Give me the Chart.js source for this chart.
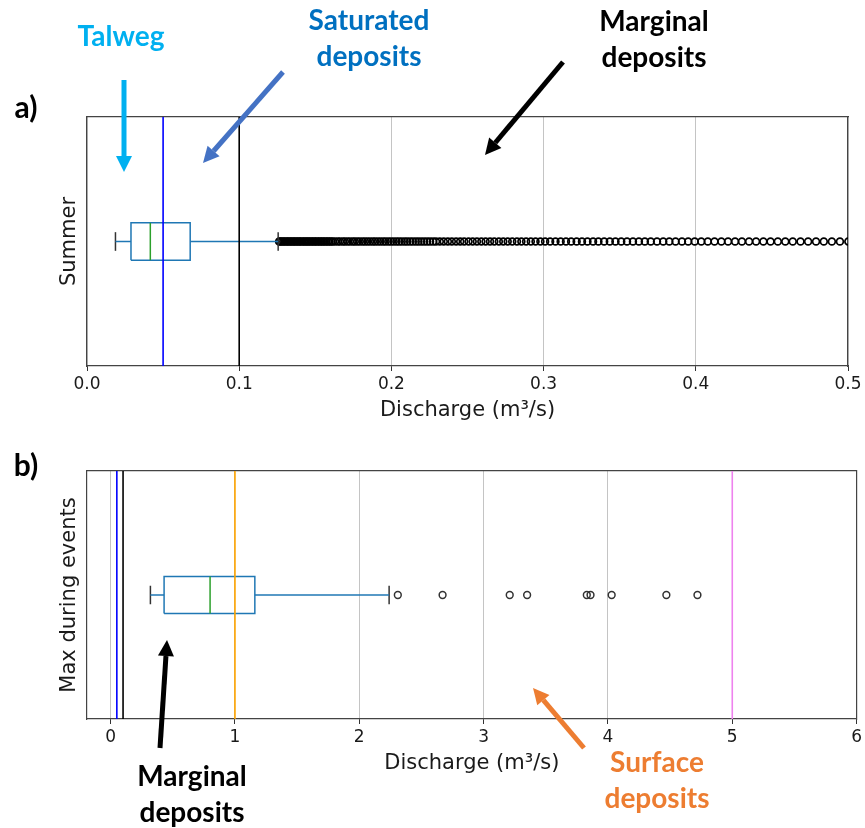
<!DOCTYPE html>
<html>
<head>
<meta charset="utf-8">
<script src="https://cdn.jsdelivr.net/npm/chart.js@4.4.1/dist/chart.umd.min.js"></script>
<style>
html,body{margin:0;padding:0;background:#fff;}
#page{position:relative;width:865px;height:828px;overflow:hidden;background:#fff;}
.wrap{position:absolute;left:0;width:865px;height:330px;}
.note{position:absolute;font-family:Lato,"Open Sans",sans-serif;font-weight:700;font-size:28px;line-height:36px;text-align:center;white-space:nowrap;transform:translate(-50%,-50%);}
.tag{font-size:30px;color:#000;}
#arrows{position:absolute;left:0;top:0;}
</style>
</head>
<body>
<div id="page">
  <div class="wrap" style="top:100px"><canvas id="summer"></canvas></div>
  <div class="wrap" style="top:455px"><canvas id="events"></canvas></div>
  <svg id="arrows" width="865" height="828"></svg>
  <div class="note tag" style="left:26px;top:106px">a)</div>
  <div class="note tag" style="left:26px;top:464px">b)</div>
  <div class="note" style="left:121px;top:35px;color:#00b0f0">Talweg</div>
  <div class="note" style="left:369px;top:37px;color:#0070c0">Saturated<br>deposits</div>
  <div class="note" style="left:654px;top:38px;color:#000">Marginal<br>deposits</div>
  <div class="note" style="left:192px;top:793px;color:#000">Marginal<br>deposits</div>
  <div class="note" style="left:657px;top:779px;color:#ed7d31">Surface<br>deposits</div>
</div>
<script>
// box stats: [low whisker, Q1, median, Q3, high whisker]
const summerBox = [0.0187, 0.0289, 0.0416, 0.0678, 0.1256];
const summerFliers = [
  0.1262, 0.1271, 0.1279, 0.1290, 0.1298, 0.1309, 0.1318, 0.1327, 0.1337, 0.1346,
  0.1356, 0.1365, 0.1374, 0.1385, 0.1394, 0.1403, 0.1413, 0.1424, 0.1432, 0.1443,
  0.1452, 0.1461, 0.1472, 0.1481, 0.1492, 0.1501, 0.1511, 0.1522, 0.1531, 0.1542,
  0.1551, 0.1562, 0.1572, 0.1583, 0.1593, 0.1604,
  0.1615, 0.1630, 0.1648, 0.1662, 0.1680, 0.1694, 0.1711, 0.1727, 0.1745, 0.1759,
  0.1776, 0.1792, 0.1810, 0.1826, 0.1843, 0.1860, 0.1878, 0.1893, 0.1911, 0.1928,
  0.1946, 0.1962, 0.1980, 0.1997, 0.2015, 0.2033, 0.2050, 0.2068, 0.2087, 0.2104,
  0.2123, 0.2141, 0.2160, 0.2178, 0.2197, 0.2216, 0.2235, 0.2254, 0.2274, 0.2293,
  0.2318, 0.2344, 0.2371, 0.2397, 0.2425, 0.2452, 0.2478, 0.2507, 0.2534, 0.2562,
  0.2591, 0.2619, 0.2648, 0.2676, 0.2706, 0.2735, 0.2764, 0.2794, 0.2825, 0.2854,
  0.2885, 0.2916, 0.2947, 0.2979,
  0.3010, 0.3043, 0.3078, 0.3112, 0.3147, 0.3181, 0.3217, 0.3252, 0.3288, 0.3325,
  0.3360, 0.3398, 0.3435, 0.3472, 0.3510, 0.3548, 0.3587, 0.3626, 0.3665, 0.3704,
  0.3745, 0.3786, 0.3826, 0.3867, 0.3909, 0.3950, 0.3993,
  0.4036, 0.4079, 0.4123, 0.4168, 0.4212, 0.4258, 0.4303, 0.4350, 0.4396, 0.4444,
  0.4491, 0.4539, 0.4588, 0.4637, 0.4688, 0.4738, 0.4790, 0.4841, 0.4894, 0.4947,
  0.5002
];
const summerLines = [0.05, 0.1];
const summerLineColors = ['#0000ff', '#000000'];
const summerTicks = [0, 0.1, 0.2, 0.3, 0.4, 0.5];

const eventsBox = [0.32, 0.43, 0.80, 1.16, 2.24];
const eventsFliers = [2.31, 2.67, 3.21, 3.35, 3.83, 3.86, 4.03, 4.47, 4.72];
const eventsLines = [0.05, 0.1, 1, 5];
const eventsLineColors = ['#0000ff', '#000000', '#ffa500', '#ee82ee'];
const eventsTicks = [0, 1, 2, 3, 4, 5, 6];

const BOX_HALF = 0.15, CAP_HALF = 0.075;
const INK = '#1a1a1a', FRAME = '#444';

function seg(points, color, width) {
  return {data: points, showLine: true, borderColor: color, borderWidth: width || 1.5,
          pointRadius: 0, fill: false, tension: 0};
}

function datasets(box, fliers, lines, lineColors, flierStyle) {
  const [lo, q1, med, q3, hi] = box;
  const y = 1, b = BOX_HALF, c = CAP_HALF;
  const out = lines.map((v, i) => seg([{x: v, y: 0}, {x: v, y: 2}], lineColors[i], 1.6));
  out.push(seg([{x: med, y: y - b}, {x: med, y: y + b}], '#2ca02c'));
  out.push(seg([{x: q1, y: y - b}, {x: q3, y: y - b}, {x: q3, y: y + b}, {x: q1, y: y + b}, {x: q1, y: y - b}], '#1f77b4'));
  out.push(seg([{x: lo, y: y}, {x: q1, y: y}], '#1f77b4'));
  out.push(seg([{x: q3, y: y}, {x: hi, y: y}], '#1f77b4'));
  out.push(seg([{x: lo, y: y - c}, {x: lo, y: y + c}], '#333'));
  out.push(seg([{x: hi, y: y - c}, {x: hi, y: y + c}], '#333'));
  out.push(Object.assign({data: fliers.map(v => ({x: v, y: y})), showLine: false,
            pointBackgroundColor: 'rgba(0,0,0,0)', clip: 0}, flierStyle));
  return out;
}

function makeChart(id, cfg) {
  return new Chart(document.getElementById(id), {
    type: 'scatter',
    data: {datasets: datasets(cfg.box, cfg.fliers, cfg.lines, cfg.lineColors, cfg.flierStyle)},
    options: {
      responsive: true, maintainAspectRatio: false, animation: false,
      layout: {padding: cfg.pad},
      plugins: {legend: {display: false}, tooltip: {enabled: false}},
      scales: {
        x: {
          type: 'linear', position: 'bottom', min: cfg.min, max: cfg.max,
          afterBuildTicks: s => { s.ticks = cfg.ticks.map(v => ({value: v})); },
          afterFit: s => { s.height = 61; },
          ticks: {callback: cfg.fmt, color: INK, padding: 3, maxRotation: 0, autoSkip: false,
                  font: {family: 'DejaVu Sans', size: 17}},
          grid: {color: '#c4c4c4', lineWidth: 1, tickLength: 5, tickColor: '#333', drawTicks: true},
          border: {color: FRAME, width: 1.2},
          title: {display: true, text: 'Discharge (m³/s)', color: INK,
                  font: {family: 'DejaVu Sans', size: 21}, padding: {top: 4, bottom: 4}}
        },
        y: {
          type: 'linear', position: 'left', min: 0, max: 2,
          afterFit: s => { s.width = cfg.yw; },
          ticks: {display: false},
          grid: {display: false},
          border: {color: FRAME, width: 1.2},
          title: {display: true, text: cfg.yTitle, color: INK,
                  font: {family: 'DejaVu Sans', size: 21}, padding: {top: 4, bottom: 4}}
        },
        xTop: {
          type: 'linear', position: 'top', min: 0, max: 1,
          afterFit: s => { s.height = 0; },
          ticks: {display: false}, grid: {display: false},
          border: {color: FRAME, width: 1.2}
        },
        yRight: {
          type: 'linear', position: 'right', min: 0, max: 1,
          afterFit: s => { s.width = 0; },
          ticks: {display: false}, grid: {display: false},
          border: {color: FRAME, width: 1.2}
        }
      }
    }
  });
}

makeChart('summer', {
  box: summerBox, fliers: summerFliers, lines: summerLines, lineColors: summerLineColors,
  ticks: summerTicks, min: 0, max: 0.5, fmt: v => v.toFixed(1), yTitle: 'Summer',
  yw: 34, pad: {left: 53, top: 17, right: 17, bottom: 3},
  flierStyle: {pointRadius: 3.4, pointBorderWidth: 1.7, pointBorderColor: '#000'}
});
makeChart('events', {
  box: eventsBox, fliers: eventsFliers, lines: eventsLines, lineColors: eventsLineColors,
  ticks: eventsTicks, min: -0.19, max: 6, fmt: v => String(v), yTitle: 'Max during events',
  yw: 34, pad: {left: 53, top: 16, right: 6, bottom: 5},
  flierStyle: {pointRadius: 3.4, pointBorderWidth: 1.5, pointBorderColor: '#333'}
});

// annotation arrows: [x1, y1, tipX, tipY, color]
const arrows = [
  [124, 80, 124, 172, '#00b0f0'],
  [283, 72, 203, 163, '#4472c4'],
  [563, 62, 485, 155, '#000000'],
  [160, 748, 167, 640, '#000000'],
  [584, 748, 533, 688, '#ed7d31']
];
const svg = document.getElementById('arrows');
const NS = 'http://www.w3.org/2000/svg';
arrows.forEach(([x1, y1, x2, y2, col]) => {
  const dx = x2 - x1, dy = y2 - y1, len = Math.hypot(dx, dy);
  const ux = dx / len, uy = dy / len, head = 16, hw = 8;
  const bx = x2 - ux * head, by = y2 - uy * head;
  const line = document.createElementNS(NS, 'line');
  line.setAttribute('x1', x1); line.setAttribute('y1', y1);
  line.setAttribute('x2', bx); line.setAttribute('y2', by);
  line.setAttribute('stroke', col); line.setAttribute('stroke-width', 5);
  svg.appendChild(line);
  const poly = document.createElementNS(NS, 'polygon');
  poly.setAttribute('points', [x2, y2, bx - uy * hw, by + ux * hw, bx + uy * hw, by - ux * hw].join(' '));
  poly.setAttribute('fill', col);
  svg.appendChild(poly);
});
</script>
</body>
</html>
